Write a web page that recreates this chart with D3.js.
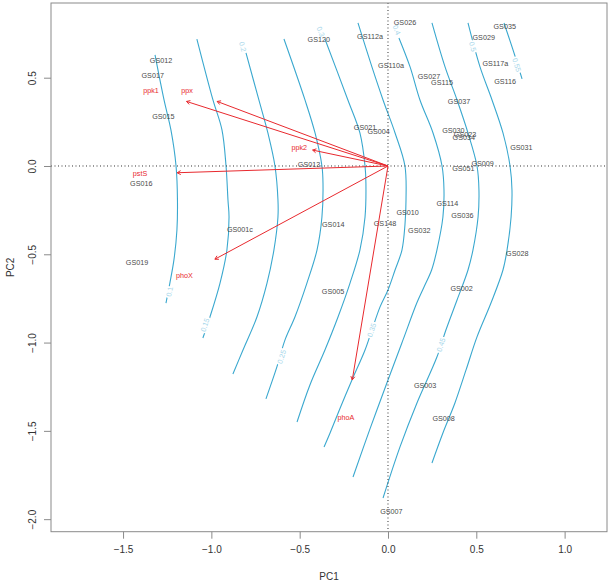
<!DOCTYPE html>
<html><head><meta charset="utf-8">
<script src="https://cdn.jsdelivr.net/npm/d3@7"></script>
<style>
body{margin:0;background:#fff}
text{font-family:"Liberation Sans",Arial,Helvetica,sans-serif}
</style>
</head><body>
<svg id="chart" width="611" height="583"></svg>
<script>
// ---------- data ----------
const xTicks = [-1.5, -1.0, -0.5, 0.0, 0.5, 1.0];
const yTicks = [-2.0, -1.5, -1.0, -0.5, 0.0, 0.5];

const sampleNames = ["GS012","GS017","GS015","GS016","GS019","GS001c","GS014","GS005","GS013",
  "GS021","GS004","GS120","GS112a","GS026","GS110a","GS027","GS115","GS037","GS030","GS023",
  "GS034","GS051","GS009","GS029","GS035","GS117a","GS116","GS031","GS010","GS114","GS036",
  "GS148","GS032","GS002","GS028","GS003","GS008","GS007"];
const sampleX = [-1.285,-1.332,-1.272,-1.397,-1.421,-0.838,-0.310,-0.311,-0.447,
  -0.130,-0.053,-0.392,-0.102,0.096,0.017,0.232,0.306,0.402,0.370,0.436,
  0.429,0.427,0.536,0.542,0.661,0.608,0.663,0.755,0.111,0.336,0.421,
  -0.017,0.177,0.417,0.732,0.210,0.315,0.019];
const sampleY = [0.595,0.510,0.283,-0.100,-0.549,-0.357,-0.332,-0.712,0.010,
  0.217,0.198,0.719,0.736,0.811,0.570,0.508,0.472,0.364,0.200,0.181,
  0.162,-0.013,0.015,0.730,0.789,0.581,0.481,0.102,-0.262,-0.211,-0.281,
  -0.323,-0.368,-0.693,-0.493,-1.242,-1.429,-1.959];

const varNames = ["ppk1","ppx","ppk2","pstS","phoX","phoA"];
const varX = [-1.342,-1.138,-0.502,-1.404,-1.153,-0.238];
const varY = [0.430,0.430,0.106,-0.045,-0.621,-1.425];

const contourLevels = [0.1,0.15,0.2,0.25,0.3,0.35,0.4,0.45,0.5,0.55];
const contour010 = [[-1.319,0.629],[-1.268,0.374],[-1.229,0.204],[-1.200,0],[-1.192,-0.193],[-1.195,-0.362],[-1.212,-0.532],[-1.235,-0.663],[-1.257,-0.776]];
const contour015 = [[-1.082,0.719],[-0.991,0.374],[-0.940,0.204],[-0.917,0],[-0.906,-0.193],[-0.900,-0.289],[-0.912,-0.476],[-0.951,-0.663],[-1.008,-0.855],[-1.048,-0.974]];
const contour020 = [[-0.804,0.640],[-0.731,0.374],[-0.680,0.187],[-0.640,0],[-0.623,-0.193],[-0.623,-0.289],[-0.646,-0.476],[-0.685,-0.663],[-0.742,-0.855],[-0.821,-1.042],[-0.878,-1.178]];
const contour025 = [[-0.589,0.719],[-0.470,0.374],[-0.413,0.187],[-0.374,0],[-0.368,-0.096],[-0.374,-0.289],[-0.402,-0.476],[-0.459,-0.663],[-0.527,-0.855],[-0.583,-0.985],[-0.629,-1.138],[-0.691,-1.319]];
const contour030 = [[-0.357,0.719],[-0.227,0.374],[-0.159,0.187],[-0.130,0],[-0.125,-0.096],[-0.130,-0.289],[-0.159,-0.476],[-0.215,-0.663],[-0.283,-0.855],[-0.357,-1.042],[-0.442,-1.240],[-0.515,-1.450]];
const contour035 = [[-0.170,0.810],[-0.091,0.561],[-0.028,0.374],[0.040,0.187],[0.096,0],[0.102,-0.193],[0.096,-0.334],[0.079,-0.476],[0.040,-0.589],[0.000,-0.702],[-0.045,-0.798],[-0.091,-0.929],[-0.130,-1.042],[-0.204,-1.212],[-0.266,-1.359],[-0.328,-1.512],[-0.362,-1.591]];
const contour040 = [[0.062,0.725],[0.125,0.561],[0.181,0.374],[0.255,0.187],[0.306,0],[0.317,-0.136],[0.311,-0.289],[0.277,-0.476],[0.247,-0.589],[0.204,-0.685],[0.163,-0.776],[0.085,-0.985],[0.000,-1.212],[-0.102,-1.489],[-0.198,-1.761]];
const contour045 = [[0.249,0.810],[0.323,0.561],[0.391,0.374],[0.453,0.187],[0.504,0],[0.515,-0.136],[0.510,-0.289],[0.481,-0.476],[0.453,-0.589],[0.391,-0.759],[0.328,-0.929],[0.277,-1.082],[0.164,-1.342],[0.068,-1.591],[-0.028,-1.880]];
const contour050 = [[0.453,0.810],[0.521,0.561],[0.589,0.374],[0.651,0.187],[0.691,0],[0.702,-0.136],[0.697,-0.289],[0.674,-0.476],[0.651,-0.589],[0.583,-0.776],[0.504,-0.968],[0.442,-1.155],[0.379,-1.342],[0.311,-1.512],[0.249,-1.682]];
const contour055 = [[0.657,0.810],[0.719,0.623],[0.759,0.493]];
const contourLabelX = [-1.237,-1.036,-0.823,-0.602,-0.381,-0.092,0.049,0.300,0.480,0.729];
const contourLabelY = [-0.712,-0.900,0.676,-1.080,0.761,-0.929,0.770,-1.013,0.676,0.572];

// ---------- setup ----------
const W = 611, H = 583;
const plot = {left: 51, right: 607, top: 3, bottom: 531.7};
const svg = d3.select("#chart");
const x = d3.scaleLinear().domain([-1.908, 1.240]).range([plot.left, plot.right]);
const y = d3.scaleLinear().domain([-2.071, 0.923]).range([plot.bottom, plot.top]);

const axisCol = "#8a8a8a", textCol = "#333333";
const lineCol = "#3aa8cf", labCol = "#a6d6ea";
const redCol = "#e8292e", sampleCol = "#4a4a4a";

svg.append("clipPath").attr("id","clip").append("rect")
  .attr("x",plot.left).attr("y",plot.top).attr("width",plot.right-plot.left).attr("height",plot.bottom-plot.top);
const g = svg.append("g").attr("clip-path","url(#clip)");

// contours
const contours = [contour010,contour015,contour020,contour025,contour030,contour035,contour040,contour045,contour050,contour055];
const line = d3.line().x(d=>x(d[0])).y(d=>y(d[1])).curve(d3.curveCatmullRom.alpha(0.5));
contours.forEach(c => {
  g.append("path").attr("d", line(c)).attr("fill","none")
    .attr("stroke", lineCol).attr("stroke-width", 1.1);
});

function labelAngle(pts, lp){
  let best = Infinity, ang = 0;
  for (let i=0;i<pts.length-1;i++){
    const [x1,y1]=pts[i],[x2,y2]=pts[i+1];
    const dx=x2-x1, dy=y2-y1;
    let t=((lp[0]-x1)*dx+(lp[1]-y1)*dy)/(dx*dx+dy*dy);
    t=Math.max(0,Math.min(1,t));
    const d=Math.hypot(x1+t*dx-lp[0], y1+t*dy-lp[1]);
    if (d<best){best=d; ang=Math.atan2(dy,dx)*180/Math.PI;}
  }
  if (ang>90) ang-=180;
  if (ang<=-90) ang+=180;
  return ang;
}
contours.forEach((c,i) => {
  const pts = c.map(d=>[x(d[0]),y(d[1])]);
  const lx = x(contourLabelX[i]), ly = y(contourLabelY[i]);
  const a = labelAngle(pts,[lx,ly]);
  g.append("text").attr("transform",`translate(${lx},${ly}) rotate(${a})`)
    .attr("text-anchor","middle").attr("dominant-baseline","central")
    .attr("font-size",7.2).attr("fill",labCol)
    .attr("stroke","#fff").attr("stroke-width",3.5).attr("paint-order","stroke")
    .text(String(contourLevels[i]));
});

// reference dotted lines
g.append("line").attr("x1",plot.left).attr("x2",plot.right).attr("y1",y(0)).attr("y2",y(0))
  .attr("stroke","#333").attr("stroke-width",1).attr("stroke-dasharray","1,2.5");
g.append("line").attr("y1",plot.top).attr("y2",plot.bottom).attr("x1",x(0)).attr("x2",x(0))
  .attr("stroke","#333").attr("stroke-width",1).attr("stroke-dasharray","1,2.5");

// sample labels
g.selectAll("text.sample").data(sampleNames).join("text").attr("class","sample")
  .attr("x",(d,i)=>x(sampleX[i])).attr("y",(d,i)=>y(sampleY[i]))
  .attr("text-anchor","middle").attr("dominant-baseline","central")
  .attr("font-size",7.2).attr("fill",sampleCol).text(d=>d);

// variable arrows (drawn to 0.85 of label position) and labels
const shrink = 0.85;
varNames.forEach((n,i) => {
  const x0 = x(0), y0 = y(0);
  const tx = x(varX[i]*shrink), ty = y(varY[i]*shrink);
  g.append("line").attr("x1",x0).attr("y1",y0).attr("x2",tx).attr("y2",ty)
    .attr("stroke",redCol).attr("stroke-width",1);
  const a = Math.atan2(ty-y0, tx-x0), L = 4, sp = Math.PI/6;
  g.append("path").attr("d",
    `M${tx+L*Math.cos(a+Math.PI-sp)},${ty+L*Math.sin(a+Math.PI-sp)}L${tx},${ty}L${tx+L*Math.cos(a+Math.PI+sp)},${ty+L*Math.sin(a+Math.PI+sp)}`)
    .attr("fill","none").attr("stroke",redCol).attr("stroke-width",1);
  g.append("text").attr("x",x(varX[i])).attr("y",y(varY[i]))
    .attr("text-anchor","middle").attr("dominant-baseline","central")
    .attr("font-size",7.2).attr("fill",redCol).text(n);
});

// axes
const fmt = d3.format(".1f");
const xAxis = svg.append("g").attr("transform",`translate(0,${plot.bottom})`)
  .call(d3.axisBottom(x).tickValues(xTicks).tickFormat(fmt).tickSize(7).tickPadding(7));
const yAxis = svg.append("g").attr("transform",`translate(${plot.left},0)`)
  .call(d3.axisLeft(y).tickValues(yTicks).tickFormat(fmt).tickSize(7));
[xAxis,yAxis].forEach(a => {
  a.select(".domain").remove();
  a.selectAll(".tick line").attr("stroke",axisCol);
  a.selectAll(".tick text").attr("fill",textCol).attr("font-size",10)
   .attr("font-family",'"Liberation Sans",Arial,sans-serif');
});
yAxis.selectAll(".tick text").attr("x",null).attr("dy",null)
  .attr("transform","translate(-19,0) rotate(-90)")
  .attr("text-anchor","middle").attr("dominant-baseline","central");

svg.append("rect").attr("x",plot.left).attr("y",plot.top)
  .attr("width",plot.right-plot.left).attr("height",plot.bottom-plot.top)
  .attr("fill","none").attr("stroke",axisCol).attr("stroke-width",1);

svg.append("text").attr("x",(plot.left+plot.right)/2).attr("y",576)
  .attr("text-anchor","middle").attr("dominant-baseline","central")
  .attr("font-size",10).attr("fill",textCol).text("PC1");
svg.append("text").attr("transform",`translate(10,${(plot.top+plot.bottom)/2}) rotate(-90)`)
  .attr("text-anchor","middle").attr("dominant-baseline","central")
  .attr("font-size",10).attr("fill",textCol).text("PC2");
</script>
</body></html>
